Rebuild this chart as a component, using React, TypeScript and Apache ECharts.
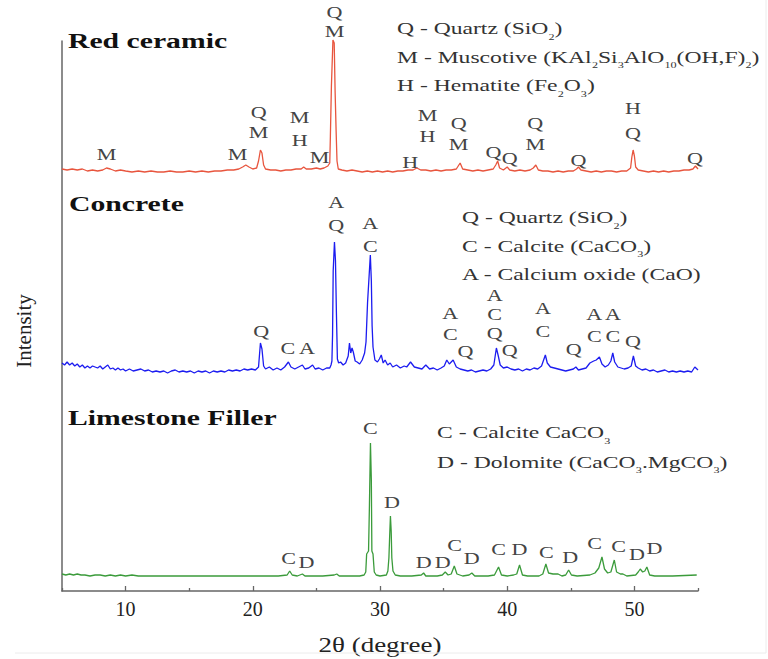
import { useEffect, useRef } from "react";
import * as echarts from "echarts";

// 2θ range of the diffractograms (degrees)
const THETA_MIN = 5;
const THETA_MAX = 55;

// Intensity (a.u.) of each pattern, relative to its own baseline: [2θ, I]
const redCeramic: [number, number][] = [
  [5.0, 2], [5.4, 1], [5.8, 2], [6.2, 1], [6.6, 2], [7.0, 0], [7.4, 1], [7.8, 0], [8.2, 1], [8.5, 3],
  [8.8, 2], [9.2, 0], [9.6, 1], [10.0, 0], [10.5, -1], [11.0, 0], [11.5, -1], [12.0, 0], [12.5, -1], [13.0, -1],
  [13.5, 0], [14.0, -1], [14.5, -1], [15.0, 0], [15.5, -1], [16.0, 0], [16.5, -1], [17.0, 0], [17.5, 0], [18.0, 1],
  [18.5, 1], [18.9, 2], [19.2, 4], [19.45, 6], [19.7, 4], [20.0, 2], [20.3, 3], [20.45, 10], [20.6, 21], [20.72, 18],
  [20.85, 6], [21.0, 2], [21.4, 1], [21.8, 1], [22.2, 0], [22.6, 1], [23.0, 1], [23.4, 2], [23.8, 2], [24.0, 4],
  [24.2, 2], [24.6, 2], [25.0, 3], [25.3, 2], [25.6, 3], [25.9, 5], [26.05, 8], [26.1, 35], [26.18, 85], [26.3, 131],
  [26.4, 128], [26.47, 80], [26.55, 40], [26.62, 10], [26.72, 2], [27.0, 1], [27.4, 0], [27.8, 1], [28.2, 0], [28.6, -1],
  [29.0, 0], [29.4, -1], [29.8, 0], [30.2, -1], [30.6, 0], [31.0, -1], [31.4, 0], [31.8, 0], [32.2, 1], [32.6, 1],
  [32.9, 3], [33.2, 1], [33.6, 1], [34.0, 0], [34.4, 1], [34.8, 0], [35.2, 1], [35.6, 1], [36.0, 2], [36.3, 8],
  [36.5, 2], [36.9, 1], [37.3, 0], [37.7, 1], [38.1, 0], [38.5, 1], [38.9, 2], [39.1, 6], [39.25, 10], [39.4, 3],
  [39.7, 1], [40.0, 4], [40.2, 1], [40.6, 0], [41.0, 1], [41.4, 0], [41.8, 1], [42.05, 3], [42.25, 6], [42.45, 1],
  [42.8, 0], [43.2, 0], [43.6, -1], [44.0, 0], [44.4, -1], [44.8, 0], [45.2, 0], [45.45, 2], [45.6, 4], [45.8, 1],
  [46.2, 0], [46.6, -1], [47.0, 0], [47.4, -1], [47.8, 0], [48.2, 0], [48.6, -1], [49.0, 0], [49.4, 0], [49.7, 3],
  [49.8, 14], [49.9, 21], [50.0, 15], [50.1, 4], [50.3, 1], [50.7, 0], [51.1, -1], [51.5, 0], [51.9, -1], [52.3, 0],
  [52.7, -1], [53.1, 0], [53.5, 0], [53.9, 1], [54.3, 1], [54.6, 2], [54.8, 5], [55.0, 2],
];

const concrete: [number, number][] = [
  [5.0, 8], [5.2, 6], [5.4, 9], [5.6, 6], [5.8, 8], [6.0, 5], [6.2, 7], [6.4, 4], [6.6, 6], [6.8, 3],
  [7.0, 5], [7.2, 3], [7.4, 5], [7.6, 4], [7.8, 3], [8.0, 5], [8.2, 2], [8.4, 4], [8.6, 6], [8.8, 2],
  [9.0, 3], [9.2, 1], [9.4, 3], [9.6, 1], [9.8, 2], [10.0, 0], [10.3, 2], [10.6, 0], [10.9, 1], [11.2, 2],
  [11.5, 0], [11.8, 1], [12.1, -1], [12.4, 0], [12.7, -1], [13.0, 0], [13.3, -2], [13.6, 0], [13.9, 1], [14.2, -1],
  [14.5, 0], [14.8, -1], [15.1, 0], [15.4, -2], [15.7, 0], [16.0, -1], [16.3, 0], [16.6, -2], [16.9, 0], [17.2, -1],
  [17.5, 0], [17.8, -1], [18.1, 1], [18.4, 0], [18.7, 1], [19.0, 0], [19.3, 2], [19.6, 1], [19.9, 2], [20.2, 1],
  [20.45, 4], [20.6, 28], [20.72, 22], [20.85, 5], [21.0, 2], [21.3, 4], [21.6, 1], [21.9, 3], [22.2, 1], [22.5, 4],
  [22.8, 9], [23.0, 4], [23.3, 2], [23.6, 4], [23.9, 6], [24.1, 2], [24.4, 3], [24.7, 6], [24.9, 2], [25.2, 3],
  [25.5, 1], [25.8, 3], [26.05, 3], [26.15, 6], [26.22, 10], [26.27, 36], [26.32, 100], [26.42, 129], [26.5, 110], [26.57, 60],
  [26.65, 12], [26.75, 8], [26.9, 9], [27.1, 6], [27.3, 8], [27.5, 15], [27.6, 28], [27.7, 18], [27.8, 23], [27.9, 19],
  [28.05, 10], [28.2, 9], [28.4, 7], [28.6, 11], [28.79, 18], [28.9, 29], [29.02, 68], [29.24, 116], [29.32, 90], [29.38, 45],
  [29.45, 24], [29.6, 11], [29.8, 9], [29.95, 12], [30.1, 16], [30.25, 8], [30.4, 11], [30.6, 6], [30.8, 8], [31.0, 4],
  [31.3, 6], [31.6, 3], [31.9, 5], [32.1, 4], [32.4, 9], [32.7, 4], [33.0, 3], [33.3, 2], [33.6, 6], [33.9, 2],
  [34.2, 3], [34.5, 1], [34.8, 3], [35.05, 5], [35.25, 11], [35.45, 7], [35.75, 11], [36.0, 4], [36.3, 2], [36.6, 1],
  [36.9, 0], [37.2, 1], [37.5, -1], [37.8, 0], [38.1, 1], [38.4, 0], [38.7, 2], [38.95, 6], [39.15, 23], [39.3, 15],
  [39.45, 6], [39.7, 3], [40.0, 4], [40.3, 2], [40.6, 1], [40.9, 2], [41.2, 0], [41.5, 2], [41.8, 1], [42.1, 3],
  [42.4, 2], [42.7, 5], [43.0, 16], [43.15, 8], [43.4, 4], [43.7, 3], [44.0, 2], [44.3, 1], [44.6, 0], [44.9, 1],
  [45.2, 2], [45.4, 4], [45.6, 1], [45.9, 2], [46.2, 3], [46.5, 8], [46.8, 10], [47.0, 11], [47.25, 14], [47.45, 7],
  [47.7, 4], [47.95, 6], [48.15, 10], [48.3, 18], [48.45, 9], [48.7, 4], [48.95, 3], [49.2, 2], [49.5, 3], [49.75, 5],
  [49.92, 15], [50.1, 5], [50.3, 3], [50.6, 1], [50.9, 2], [51.2, 0], [51.5, 1], [51.8, -1], [52.1, 0], [52.4, 1],
  [52.7, -1], [53.0, 0], [53.3, -1], [53.6, 0], [53.9, -1], [54.2, 0], [54.5, -1], [54.75, 4], [55.0, 1],
];

const limestoneFiller: [number, number][] = [
  [5.0, 2], [5.3, 1], [5.6, 2], [5.9, 1], [6.2, 2], [6.5, 1], [6.8, 1], [7.2, 0], [7.6, 1], [8.0, 1],
  [8.4, 0], [8.8, 1], [9.2, 0], [9.6, 1], [10.0, 0], [10.5, 1], [11.0, 0], [12.0, 0], [13.0, 0], [14.0, 0],
  [15.0, 0], [16.0, 0], [17.0, 0], [18.0, 0], [19.0, 0], [20.0, 0], [21.0, 0], [22.0, 0], [22.7, 1], [22.9, 5],
  [23.1, 1], [23.5, 0], [23.9, 2], [24.1, 0], [24.6, 0], [25.5, 0], [26.4, 1], [26.6, 2], [26.8, 0], [27.6, 0],
  [28.4, 0], [28.75, 1], [28.88, 4], [28.95, 22], [29.1, 25], [29.17, 71], [29.25, 133], [29.32, 95], [29.36, 25], [29.45, 22],
  [29.55, 4], [29.7, 1], [30.0, 0], [30.5, 1], [30.62, 5], [30.7, 18], [30.76, 40], [30.82, 60], [30.88, 45], [30.93, 18],
  [31.02, 5], [31.2, 1], [31.6, 0], [32.5, 0], [33.25, 1], [33.43, 3], [33.6, 0], [34.5, 0], [34.9, 1], [35.13, 4],
  [35.35, 1], [35.6, 2], [35.84, 10], [36.05, 2], [36.5, 0], [37.0, 1], [37.22, 3], [37.45, 0], [38.5, 0], [39.0, 1],
  [39.32, 9], [39.55, 1], [40.0, 0], [40.5, 1], [40.75, 2], [40.97, 11], [41.2, 1], [41.6, 0], [42.5, 0], [42.8, 2],
  [43.04, 12], [43.25, 3], [43.6, 2], [44.0, 2], [44.3, 0], [44.6, 1], [44.83, 6], [45.05, 1], [45.5, 0], [46.5, 1],
  [46.9, 3], [47.2, 8], [47.45, 19], [47.65, 7], [47.9, 3], [48.15, 4], [48.42, 16], [48.6, 4], [48.9, 2], [49.1, 2],
  [49.4, 0], [50.1, 1], [50.3, 4], [50.46, 7], [50.65, 4], [50.82, 5], [50.98, 9], [51.2, 1], [51.6, 0], [53.0, 0],
  [54.9, 1],
];

// Phase labels above the reflections: [2θ, height above baseline, phase letter]
const redLabels: [number, number, string][] = [
  [26.42, 159, "Q"], [26.42, 140, "M"], [8.51, 17, "M"], [18.8, 17, "M"], [20.46, 59, "Q"], [20.46, 39, "M"],
  [23.68, 54, "M"], [23.68, 31, "H"], [25.25, 14, "M"], [32.38, 9, "H"], [33.74, 56, "M"], [33.74, 35, "H"],
  [36.18, 48, "Q"], [36.18, 27, "M"], [38.93, 19, "Q"], [40.19, 13, "Q"], [42.21, 48, "Q"], [42.21, 27, "M"],
  [45.61, 11, "Q"], [49.88, 63, "H"], [49.88, 38, "Q"], [54.76, 13, "Q"],
];

const concreteLabels: [number, number, string][] = [
  [26.56, 169, "A"], [26.56, 146, "Q"], [29.24, 148, "A"], [29.24, 125, "C"], [20.67, 40, "Q"],
  [22.76, 23, "C"], [24.25, 23, "A"], [35.53, 58, "A"], [35.53, 37, "C"], [36.71, 20, "Q"],
  [39.01, 76, "A"], [39.01, 57, "C"], [39.01, 38, "Q"], [40.19, 21, "Q"], [42.81, 63, "A"], [42.81, 40, "C"],
  [45.22, 22, "Q"], [46.85, 57, "A"], [48.31, 57, "A"], [46.85, 35, "C"], [48.31, 35, "C"], [49.88, 30, "Q"],
];

const limestoneLabels: [number, number, string][] = [
  [29.24, 148, "C"], [22.82, 18, "C"], [24.21, 14, "D"], [30.94, 74, "D"], [33.43, 14, "D"], [34.94, 14, "D"],
  [35.86, 31, "C"], [37.22, 18, "D"], [39.32, 27, "C"], [40.97, 27, "D"], [43.07, 24, "C"], [44.96, 19, "D"],
  [46.87, 33, "C"], [48.76, 30, "C"], [50.2, 22, "D"], [51.57, 28, "D"],
];

// Phase keys: plain text with subscript runs in {s|...}
const redKey = [
  "Q - Quartz (SiO{s|2})",
  "M - Muscotive (KAl{s|2}Si{s|3}AlO{s|10}(OH,F){s|2})",
  "H - Hematite (Fe{s|2}O{s|3})",
];
const concreteKey = ["Q - Quartz (SiO{s|2})", "C - Calcite (CaCO{s|3})", "A - Calcium oxide (CaO)"];
const limestoneKey = ["C - Calcite CaCO{s|3}", "D - Dolomite (CaCO{s|3}.MgCO{s|3})"];

const SERIF = "'Liberation Serif', 'Times New Roman', serif";
const STRETCH = 1.35;

// vertical stacking of the three patterns on the shared intensity axis
const OFFSET = { red: 420, concrete: 220, limestone: 15 };

function richKey(line: string): string {
  return line
    .split(/(\{s\|[^}]*\})/)
    .filter((part) => part.length > 0)
    .map((part) => (part.startsWith("{s|") ? part : `{m|${part}}`))
    .join("");
}

export default function App() {
  const ref = useRef<HTMLDivElement>(null);

  useEffect(() => {
    if (!ref.current) return;
    const chart = echarts.init(ref.current, undefined, { renderer: "svg" });

    const shift = (pts: [number, number][], off: number) => pts.map(([x, y]) => [x, y + off]);

    const allLabels = [
      ...redLabels.map((l) => ({ x: l[0], y: l[1] + OFFSET.red, t: l[2] })),
      ...concreteLabels.map((l) => ({ x: l[0], y: l[1] + OFFSET.concrete, t: l[2] })),
      ...limestoneLabels.map((l) => ({ x: l[0], y: l[1] + OFFSET.limestone, t: l[2] })),
    ];

    const keyBlock = (lines: string[], x: number, y0: number, step: number) =>
      lines.map((line, i) => ({
        type: "text",
        x,
        y: y0 + i * step,
        scaleX: STRETCH,
        silent: true,
        style: {
          text: richKey(line),
          align: "left",
          verticalAlign: "middle",
          rich: {
            m: { fontFamily: SERIF, fontSize: 17.5, fill: "#333", lineHeight: 26 },
            s: { fontFamily: SERIF, fontSize: 9, fill: "#333", lineHeight: 9, verticalAlign: "bottom" },
          },
        },
      }));

    const sampleName = (text: string, x: number, y: number) => ({
      type: "text",
      x,
      y,
      scaleX: STRETCH,
      silent: true,
      style: {
        text,
        fontFamily: SERIF,
        fontWeight: "bold",
        fontSize: 22,
        fill: "#111",
        align: "left",
        verticalAlign: "middle",
      },
    });

    const lineSeries = (name: string, pts: [number, number][], off: number, color: string) => ({
      name,
      type: "line",
      data: shift(pts, off),
      showSymbol: false,
      symbol: "none",
      clip: false,
      lineStyle: { color, width: 1.3 },
      silent: true,
    });

    chart.setOption({
      animation: false,
      backgroundColor: "#ffffff",
      grid: { left: 62, right: 70, top: 41, bottom: 68 },
      xAxis: [
        {
          type: "value",
          min: THETA_MIN,
          max: THETA_MAX,
          splitNumber: 5,
          position: "bottom",
          axisLine: { show: true, lineStyle: { color: "#666", width: 1.5 } },
          axisTick: { show: true, inside: true, length: 5, lineStyle: { color: "#666", width: 1.3 } },
          axisLabel: {
            showMinLabel: false,
            showMaxLabel: false,
            fontFamily: SERIF,
            fontSize: 20,
            color: "#222",
            margin: 8,
          },
          splitLine: { show: false },
        },
        {
          type: "value",
          min: THETA_MIN,
          max: THETA_MAX,
          interval: 10,
          position: "bottom",
          axisLine: { show: false },
          axisTick: { show: true, inside: true, length: 3, lineStyle: { color: "#666", width: 1.3 } },
          axisLabel: { show: false },
          splitLine: { show: false },
        },
      ],
      yAxis: {
        type: "value",
        min: 0,
        max: 550,
        axisLine: { show: true, lineStyle: { color: "#666", width: 1.5 } },
        axisTick: { show: false },
        axisLabel: { show: false },
        splitLine: { show: false },
      },
      series: [
        lineSeries("Red ceramic", redCeramic, OFFSET.red, "#e8553e"),
        lineSeries("Concrete", concrete, OFFSET.concrete, "#1c1cf0"),
        lineSeries("Limestone Filler", limestoneFiller, OFFSET.limestone, "#3b9b3b"),
        {
          type: "custom",
          name: "phases",
          silent: true,
          clip: false,
          data: allLabels.map((l) => [l.x, l.y]),
          renderItem: (params: any, api: any) => {
            const p = api.coord([api.value(0), api.value(1)]);
            return {
              type: "text",
              x: p[0],
              y: p[1],
              scaleX: 1.3,
              style: {
                text: allLabels[params.dataIndex].t,
                fontFamily: SERIF,
                fontSize: 17,
                fill: "#444",
                align: "center",
                verticalAlign: "middle",
              },
            };
          },
        },
      ],
      graphic: [
        sampleName("Red ceramic", 68, 41),
        sampleName("Concrete", 69, 204),
        sampleName("Limestone Filler", 68, 418),
        ...keyBlock(redKey, 397, 28, 28.5),
        ...keyBlock(concreteKey, 462, 217, 28.5),
        ...keyBlock(limestoneKey, 437, 432, 29.5),
        {
          type: "text",
          x: 380,
          y: 645,
          scaleX: STRETCH,
          silent: true,
          style: {
            text: "2θ (degree)",
            fontFamily: SERIF,
            fontSize: 20,
            fill: "#222",
            align: "center",
            verticalAlign: "middle",
          },
        },
        {
          type: "text",
          x: 24,
          y: 331,
          rotation: Math.PI / 2,
          silent: true,
          style: {
            text: "Intensity",
            fontFamily: SERIF,
            fontSize: 21,
            fill: "#222",
            align: "center",
            verticalAlign: "middle",
          },
        },
        {
          type: "line",
          silent: true,
          shape: { x1: 766, y1: 0, x2: 766, y2: 653 },
          style: { stroke: "#ececec", lineWidth: 1 },
        },
        {
          type: "line",
          silent: true,
          shape: { x1: 15, y1: 653, x2: 766, y2: 653 },
          style: { stroke: "#ececec", lineWidth: 1 },
        },
      ],
    });

    return () => chart.dispose();
  }, []);

  return (
    <div
      ref={ref}
      style={{ position: "fixed", left: 0, top: 0, width: 768, height: 659, background: "#fff" }}
    />
  );
}
